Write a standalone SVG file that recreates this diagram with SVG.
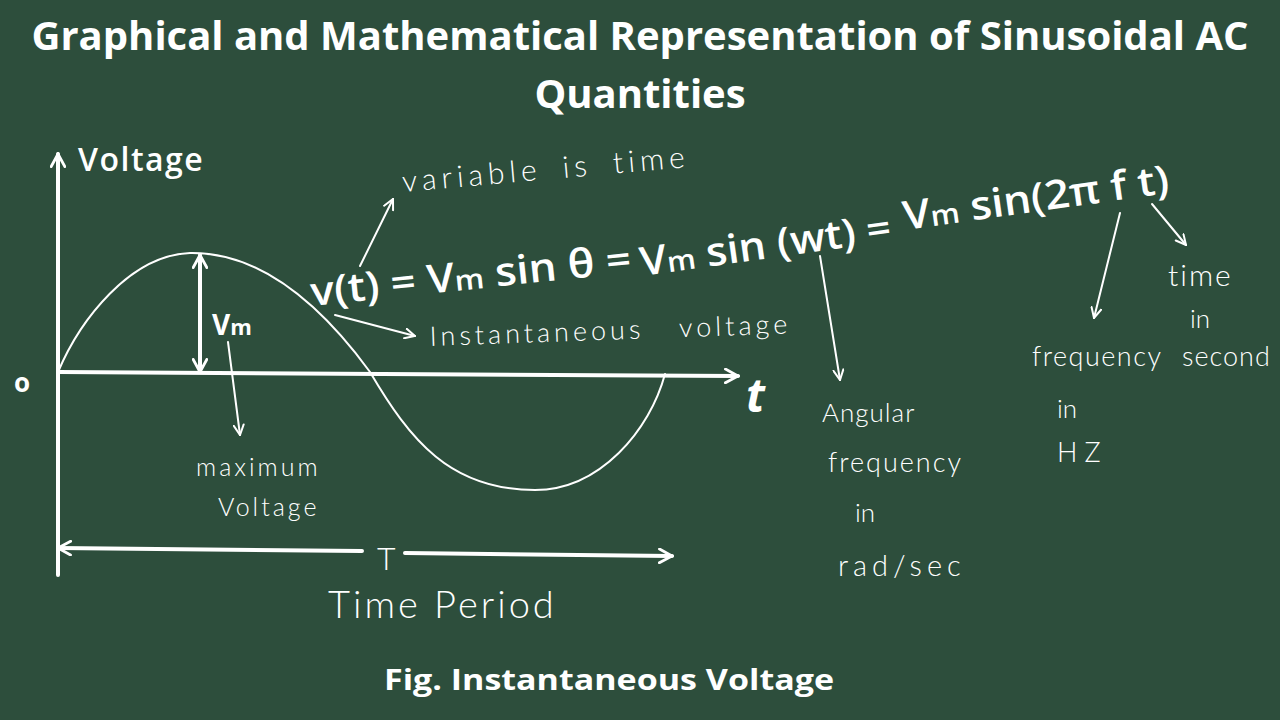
<svg xmlns="http://www.w3.org/2000/svg" width="1280" height="720" viewBox="0 0 1280 720">
<defs>
<style>
.title{font-family:"Open Sans","Liberation Sans",sans-serif;font-weight:700;font-size:40px;fill:#ffffff;text-anchor:middle}
.cap{font-family:"Open Sans","Liberation Sans",sans-serif;font-weight:700;font-size:29px;fill:#ffffff}
.hand{font-family:"Lato","Open Sans",sans-serif;font-weight:300;fill:#ffffff}
.bold{font-family:"Open Sans","Liberation Sans",sans-serif;font-weight:700;fill:#ffffff}
.eq{font-family:"Open Sans","Liberation Sans",sans-serif;font-weight:600;fill:#ffffff}
.thick{stroke:#ffffff;stroke-width:4;fill:none;stroke-linecap:round;stroke-linejoin:round}
.thin{stroke:#ffffff;stroke-width:2;fill:none;stroke-linecap:round;stroke-linejoin:round}
</style>
<marker id="ah" viewBox="0 0 12 12" refX="11" refY="6" markerWidth="12" markerHeight="12" markerUnits="userSpaceOnUse" orient="auto">
<path d="M1,1 L11,6 L1,11" fill="none" stroke="#ffffff" stroke-width="2" stroke-linecap="round"/>
</marker>
<marker id="ahb" viewBox="0 0 14 14" refX="12" refY="7" markerWidth="16" markerHeight="16" markerUnits="userSpaceOnUse" orient="auto-start-reverse">
<path d="M1,1 L12,7 L1,13" fill="none" stroke="#ffffff" stroke-width="2.5" stroke-linecap="round"/>
</marker>
</defs>
<rect width="1280" height="720" fill="#2d4e3c"/>

<g id="title">
<text class="title" x="640" y="50">Graphical and Mathematical Representation of Sinusoidal AC</text>
<text class="title" x="640" y="108">Quantities</text>
</g>

<g id="axes">
<path class="thick" d="M58,575 L58,154" marker-end="url(#ahb)"/>
<path class="thick" d="M58,372 L738,376" marker-end="url(#ahb)"/>
<text class="bold" x="14" y="392" font-size="26">o</text>
<text class="bold" x="746" y="412" font-size="46" font-style="italic">t</text>
<text class="eq" x="78" y="171" font-size="32" letter-spacing="1.5">Voltage</text>
</g>

<g id="wave">
<path class="thin" d="M58,372 C80,320 130,255 190,253 C250,252 310,290 370,372 C410,440 450,490 535,490 C600,490 650,430 665,374"/>
</g>

<g id="vm">
<path class="thick" d="M200,372 L200,255" marker-end="url(#ahb)" marker-start="url(#ahb)"/>
<text class="bold" x="212" y="335" font-size="28">V<tspan font-size="22">m</tspan></text>
</g>

<g id="connectors">
<path class="thin" d="M228,342 L240,435" marker-end="url(#ah)"/>
<path class="thin" d="M360,266 L393,199" marker-end="url(#ah)"/>
<path class="thin" d="M335,315 L415,336" marker-end="url(#ah)"/>
<path class="thin" d="M820,256 L840,380" marker-end="url(#ah)"/>
<path class="thin" d="M1120,213 L1094,318" marker-end="url(#ah)"/>
<path class="thin" d="M1152,204 L1186,245" marker-end="url(#ah)"/>
</g>

<g id="maxlabel">
<text class="hand" x="196" y="476" font-size="25" letter-spacing="3">maximum</text>
<text class="hand" x="218" y="516" font-size="25" letter-spacing="3">Voltage</text>
</g>

<g id="period">
<path class="thick" d="M362,551 L58,548" marker-end="url(#ahb)"/>
<path class="thick" d="M405,553 L672,556" marker-end="url(#ahb)"/>
<text class="hand" x="377" y="570" font-size="32" font-weight="400">T</text>
<text class="hand" x="328" y="618" font-size="38" font-weight="400" letter-spacing="3">Time Period</text>
</g>

<g id="equation">
<text class="eq" x="312" y="306" font-size="40" transform="rotate(-6 312 306)" textLength="322" lengthAdjust="spacingAndGlyphs">v(t) = V<tspan font-size="28">m</tspan> sin θ =</text>
<text class="eq" x="642" y="276" font-size="40" transform="rotate(-8 642 276)" textLength="253" lengthAdjust="spacingAndGlyphs">V<tspan font-size="28">m</tspan> sin (wt) =</text>
<text class="eq" x="905" y="230" font-size="40" transform="rotate(-8 905 230)" textLength="268" lengthAdjust="spacingAndGlyphs">V<tspan font-size="28">m</tspan> sin(2π f t)</text>
</g>

<g id="varlabel">
<text class="hand" x="403" y="192" font-size="30" letter-spacing="5" word-spacing="8" transform="rotate(-5 403 192)">variable is time</text>
</g>

<g id="instlabel">
<text class="hand" x="430" y="346" font-size="27" letter-spacing="4" word-spacing="24" transform="rotate(-2 430 346)">Instantaneous voltage</text>
</g>

<g id="angular">
<text class="hand" x="822" y="422" font-size="26" letter-spacing="1">Angular</text>
<text class="hand" x="828" y="472" font-size="27" letter-spacing="2">frequency</text>
<text class="hand" x="855" y="522" font-size="26">in</text>
<text class="hand" x="838" y="576" font-size="29" letter-spacing="5">rad/sec</text>
</g>

<g id="freq">
<text class="hand" x="1032" y="366" font-size="27" letter-spacing="1.5">frequency</text>
<text class="hand" x="1057" y="418" font-size="26">in</text>
<text class="hand" x="1057" y="462" font-size="27" letter-spacing="7">HZ</text>
</g>

<g id="timesec">
<text class="hand" x="1168" y="286" font-size="30" letter-spacing="2">time</text>
<text class="hand" x="1190" y="328" font-size="26">in</text>
<text class="hand" x="1182" y="366" font-size="27" letter-spacing="1">second</text>
</g>

<g id="caption">
<text class="cap" x="384" y="690" textLength="450" lengthAdjust="spacingAndGlyphs">Fig. Instantaneous Voltage</text>
</g>
</svg>
